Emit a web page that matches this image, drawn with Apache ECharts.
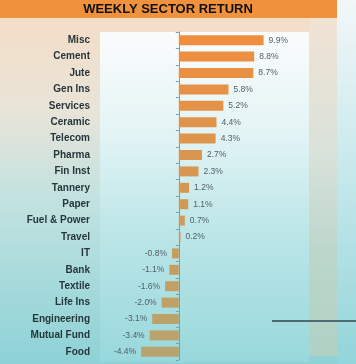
<!DOCTYPE html>
<html>
<head>
<meta charset="utf-8">
<style>
html,body{margin:0;padding:0;background:#fff;}
#c{width:356px;height:364px;}
</style>
<script src="https://cdn.jsdelivr.net/npm/echarts@6/dist/echarts.min.js"></script>
</head>
<body>
<div id="c"></div>
<script>
const titleText = 'WEEKLY SECTOR RETURN';
const categories = ['Misc','Cement','Jute','Gen Ins','Services','Ceramic','Telecom','Pharma','Fin Inst','Tannery','Paper','Fuel & Power','Travel','IT','Bank','Textile','Life Ins','Engineering','Mutual Fund','Food'];
const values = [9.9,8.8,8.7,5.8,5.2,4.4,4.3,2.7,2.3,1.2,1.1,0.7,0.2,-0.8,-1.1,-1.6,-2.0,-3.1,-3.4,-4.4];

const chart = echarts.init(document.getElementById('c'), null, {renderer:'canvas'});
function lerp(a,b,t){return Math.round(a+(b-a)*t);}
function barColor(i){
  const t = i/(categories.length-1);
  const c0=[239,142,62], c1=[182,163,110];
  return 'rgb('+lerp(c0[0],c1[0],t)+','+lerp(c0[1],c1[1],t)+','+lerp(c0[2],c1[2],t)+')';
}
const vgrad = (stops)=>new echarts.graphic.LinearGradient(0,0,0,1,stops.map(s=>({offset:s[0],color:s[1]})));

const data = values.map((v,i)=>({
  value:v,
  itemStyle:{color:barColor(i)},
  label:{position: v>=0?'right':'left'}
}));

const GRID_LEFT = 100;
chart.setOption({
  animation:false,
  graphic:[
    {type:'rect',z:-10,shape:{x:0,y:0,width:356,height:364},style:{fill:vgrad([[0,'#F6DCC4'],[0.3,'#E9E4D8'],[0.55,'#C2E2E0'],[1,'#8DD2D7']])},silent:true},
    {type:'rect',z:-9,shape:{x:337,y:0,width:19,height:364},style:{fill:vgrad([[0,'#F2F7F9'],[0.4,'#CDEBEE'],[1,'#92D5DA']])},silent:true},
    {type:'rect',z:-9,shape:{x:100,y:32,width:209,height:330},style:{fill:vgrad([[0,'#FBFCFC'],[0.3,'#E4F4F5'],[0.6,'#BDE6E8'],[1,'#98D8DC']])},silent:true},
    {type:'rect',z:-9,shape:{x:309,y:18,width:28,height:338},style:{fill:vgrad([[0,'#F1E3D4'],[0.4,'#D9E2DA'],[0.7,'#BCD6CB'],[1,'#B0D1C4']])},silent:true},
    {type:'rect',z:-8,shape:{x:0,y:0,width:337,height:18},style:{fill:'#F0913E'},silent:true},
    {type:'text',z:5,x:168,y:9,style:{text:titleText,fill:'#111',font:'bold 13px "Liberation Sans", Arial, sans-serif',textAlign:'center',textVerticalAlign:'middle'},silent:true},
    {type:'line',z:5,shape:{x1:272,y1:321,x2:356,y2:321},style:{stroke:'#4E6A70',lineWidth:2},silent:true}
  ],
  grid:{left:GRID_LEFT,top:32,width:209,height:328,containLabel:false},
  xAxis:{type:'value',min:-9.2,max:15.2,show:false,splitLine:{show:false}},
  yAxis:[
    {type:'category',data:categories,inverse:true,position:'left',
     axisLine:{show:false},axisTick:{show:false},
     axisLabel:{margin:10,color:'#26363C',fontWeight:'bold',fontSize:10,fontFamily:'"Liberation Sans", Arial, sans-serif'}},
    {type:'category',data:categories,inverse:true,position:'left',
     axisLine:{show:true,onZero:false,lineStyle:{color:'#7E9CA8',width:1}},
     axisTick:{show:true,length:3,lineStyle:{color:'#7E9CA8'}},
     axisLabel:{show:false}}
  ],
  series:[{
    type:'bar',
    data:data,
    barWidth:10,
    label:{show:true,distance:5,fontSize:8.5,color:'#4F5F66',fontFamily:'"Liberation Sans", Arial, sans-serif',
      formatter:p=>p.value.toFixed(1)+'%'}
  }]
});
const zeroPx = chart.convertToPixel({xAxisIndex:0}, 0);
chart.setOption({yAxis:[{},{offset:-(zeroPx-GRID_LEFT)}]});
</script>
</body>
</html>
